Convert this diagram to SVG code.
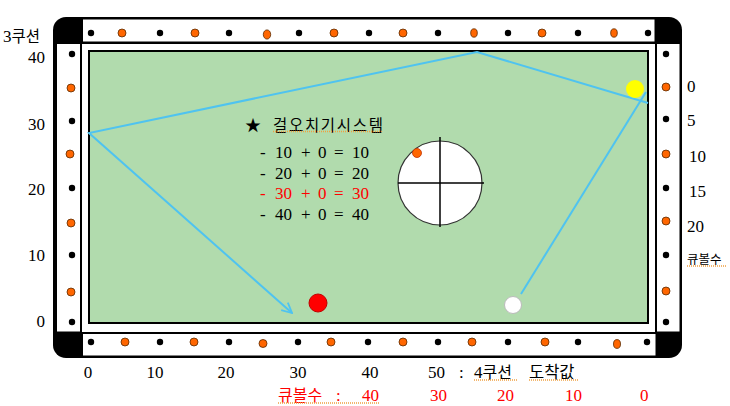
<svg xmlns="http://www.w3.org/2000/svg" width="730" height="406" viewBox="0 0 730 406">
<style>
.num{font-family:"Liberation Serif","Noto Sans CJK KR",serif;font-size:17px;fill:#000}
.kr{font-family:"Noto Sans CJK KR","Liberation Sans",sans-serif;fill:#000}
.red{fill:#ff0000}
.bd{fill:#000}
.od{fill:#ff6600;stroke:#5a2a00;stroke-width:0.8}
.sq{stroke:#f0a040;stroke-width:1.5;stroke-dasharray:1 1;fill:none}
.cue{stroke:#4fc3f0;stroke-width:2;fill:none}
</style>
<defs>
<marker id="arr" viewBox="0 0 12 12" refX="11" refY="6" markerWidth="12" markerHeight="12" markerUnits="userSpaceOnUse" orient="auto">
<path d="M1,1 L11,6 L1,11" fill="none" stroke="#4fc3f0" stroke-width="1.8"/>
</marker>
</defs>
<rect width="730" height="406" fill="#fff"/>
<g id="table">
<rect x="53" y="17" width="629" height="341" rx="13" fill="#000"/>
<rect x="83" y="19.5" width="571.5" height="22" fill="#fff"/>
<rect x="83" y="334" width="572.5" height="21.5" fill="#fff"/>
<rect x="57" y="44" width="23" height="287.5" fill="#fff"/>
<rect x="657" y="44" width="22.5" height="287.5" fill="#fff"/>
<rect x="82" y="44" width="573" height="288" fill="#fff"/>
<rect x="89" y="51" width="559" height="272" fill="#b1dbad" stroke="#000" stroke-width="2"/>
</g>
<g id="diamonds">
<circle class="bd" cx="91" cy="33" r="3.2"/><circle class="bd" cx="160" cy="33" r="3.2"/><circle class="bd" cx="229" cy="33" r="3.2"/><circle class="bd" cx="299" cy="33" r="3.2"/><circle class="bd" cx="369" cy="33" r="3.2"/><circle class="bd" cx="438" cy="33" r="3.2"/><circle class="bd" cx="508" cy="33" r="3.2"/><circle class="bd" cx="578" cy="33" r="3.2"/><circle class="bd" cx="648" cy="33" r="3.2"/>
<circle class="od" cx="122" cy="33" r="4"/><circle class="od" cx="195" cy="33" r="4"/><ellipse class="od" cx="267" cy="34.5" rx="3.7" ry="4.6"/><circle class="od" cx="334" cy="33" r="4"/><circle class="od" cx="403" cy="33" r="4"/><ellipse class="od" cx="474" cy="33" rx="3.3" ry="4.2"/><circle class="od" cx="542" cy="33" r="4"/><ellipse class="od" cx="614" cy="33" rx="3.3" ry="4.2"/>
<circle class="bd" cx="91" cy="342" r="3.2"/><circle class="bd" cx="160" cy="342" r="3.2"/><circle class="bd" cx="229" cy="342" r="3.2"/><circle class="bd" cx="298" cy="342" r="3.2"/><circle class="bd" cx="368" cy="342" r="3.2"/><circle class="bd" cx="438" cy="342" r="3.2"/><circle class="bd" cx="508" cy="342" r="3.2"/><circle class="bd" cx="578" cy="342" r="3.2"/><circle class="bd" cx="647" cy="342" r="3.2"/>
<circle class="od" cx="125" cy="342" r="4"/><circle class="od" cx="194" cy="342" r="4"/><circle class="od" cx="263" cy="343.5" r="4"/><circle class="od" cx="331" cy="342" r="4"/><circle class="od" cx="403" cy="342" r="4"/><circle class="od" cx="472" cy="342" r="4"/><circle class="od" cx="545" cy="342" r="4"/><ellipse class="od" cx="617" cy="344" rx="3.5" ry="4.4"/>
<circle class="bd" cx="72" cy="54" r="3.2"/><circle class="bd" cx="72" cy="121" r="3.2"/><circle class="bd" cx="72" cy="188" r="3.2"/><circle class="bd" cx="72" cy="255" r="3.2"/><circle class="bd" cx="72" cy="322" r="3.2"/>
<circle class="od" cx="71" cy="88" r="4"/><circle class="od" cx="70" cy="154" r="4"/><circle class="od" cx="71" cy="223" r="4"/><circle class="od" cx="71" cy="292" r="4"/>
<circle class="bd" cx="666" cy="54" r="3.2"/><circle class="bd" cx="666" cy="119" r="3.2"/><circle class="bd" cx="666" cy="188" r="3.2"/><circle class="bd" cx="666" cy="255" r="3.2"/><circle class="bd" cx="666" cy="322" r="3.2"/>
<circle class="od" cx="666" cy="87" r="4"/><circle class="od" cx="666" cy="154" r="4"/><circle class="od" cx="666" cy="221" r="4"/><circle class="od" cx="666" cy="291" r="4"/>
</g>
<g id="connectors">
<polyline class="cue" points="521,294 646,92"/>
<polyline class="cue" points="648,103 477,52 89,133 292,313" marker-end="url(#arr)"/>
</g>
<g id="balls">
<circle cx="635" cy="89" r="9" fill="#ffff00"/>
<circle cx="318" cy="303" r="9" fill="#ff0000" stroke="#c00000" stroke-width="1"/>
<circle cx="513" cy="305" r="8.5" fill="#fff" stroke="#bbb" stroke-width="1"/>
</g>
<g id="spin-chart">
<circle cx="440" cy="183" r="42" fill="#fff" stroke="#333" stroke-width="1.2"/>
<line x1="398" y1="183" x2="484" y2="183" stroke="#000" stroke-width="1.5"/>
<line x1="440" y1="137" x2="440" y2="227" stroke="#000" stroke-width="1.5"/>
<circle cx="417" cy="153" r="4.5" fill="#ff6600" stroke="#c03000" stroke-width="0.8"/>
</g>
<g id="system-text">
<text class="kr" x="245" y="131" font-size="16">★</text>
<text class="kr" x="273" y="131" font-size="15.5" textLength="110">걸오치기시스템</text>
<line class="sq" x1="273" y1="131.5" x2="383" y2="131.5"/>
<text class="num" y="158"><tspan x="260">-</tspan><tspan x="275">10</tspan><tspan x="301">+</tspan><tspan x="318">0</tspan><tspan x="334">=</tspan><tspan x="352">10</tspan></text>
<text class="num" y="179"><tspan x="260">-</tspan><tspan x="275">20</tspan><tspan x="301">+</tspan><tspan x="318">0</tspan><tspan x="334">=</tspan><tspan x="352">20</tspan></text>
<text class="num red" y="199"><tspan x="260">-</tspan><tspan x="275">30</tspan><tspan x="301">+</tspan><tspan x="318">0</tspan><tspan x="334">=</tspan><tspan x="352">30</tspan></text>
<text class="num" y="220"><tspan x="260">-</tspan><tspan x="275">40</tspan><tspan x="301">+</tspan><tspan x="318">0</tspan><tspan x="334">=</tspan><tspan x="352">40</tspan></text>
</g>
<g id="left-labels">
<text class="num" x="3" y="42"><tspan>3</tspan><tspan class="kr" font-size="15.5">쿠션</tspan></text>
<text class="num" x="45" y="63" text-anchor="end">40</text>
<text class="num" x="45" y="130" text-anchor="end">30</text>
<text class="num" x="45" y="195" text-anchor="end">20</text>
<text class="num" x="45" y="261" text-anchor="end">10</text>
<text class="num" x="45" y="327" text-anchor="end">0</text>
</g>
<g id="right-labels">
<text class="num" x="687" y="92">0</text>
<text class="num" x="687" y="126">5</text>
<text class="num" x="689" y="162">10</text>
<text class="num" x="689" y="197">15</text>
<text class="num" x="687" y="232">20</text>
<text class="kr" x="687" y="264" font-size="12.5">큐볼수</text>
<line class="sq" x1="687" y1="266" x2="727" y2="266"/>
</g>
<g id="bottom-labels">
<text class="num" x="88" y="378" text-anchor="middle">0</text>
<text class="num" x="155" y="378" text-anchor="middle">10</text>
<text class="num" x="226" y="378" text-anchor="middle">20</text>
<text class="num" x="298" y="378" text-anchor="middle">30</text>
<text class="num" x="370" y="378" text-anchor="middle">40</text>
<text class="num" x="428" y="378">50</text>
<text class="num" x="459" y="378">:</text>
<text class="num" x="474" y="378">4<tspan class="kr" font-size="16">쿠션</tspan></text>
<text class="kr" x="529" y="378" font-size="16.5">도착값</text>
<line class="sq" x1="474" y1="380" x2="518" y2="380"/>
<line class="sq" x1="529" y1="380" x2="578" y2="380"/>
<text class="kr red" x="278" y="401" font-size="16">큐볼수</text>
<text class="num red" x="336" y="401">:</text>
<text class="num red" x="362" y="401">40</text>
<text class="num red" x="430" y="401">30</text>
<text class="num red" x="497" y="401">20</text>
<text class="num red" x="565" y="401">10</text>
<text class="num red" x="640" y="401">0</text>
<line class="sq" x1="278" y1="403" x2="380" y2="403"/>
</g>
</svg>
